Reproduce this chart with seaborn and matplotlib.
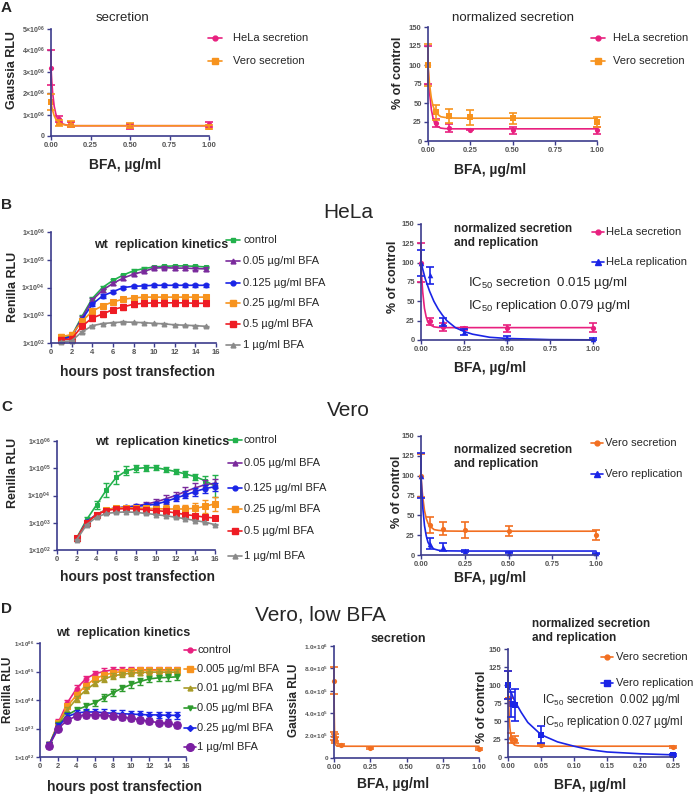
import numpy as np
import pandas as pd
import matplotlib
matplotlib.use('Agg')
import matplotlib.pyplot as plt
from matplotlib.lines import Line2D
from matplotlib.ticker import NullLocator
import seaborn as sns

W, H = 696, 795

MAGENTA = '#e8207f'
ORANGE = '#f7931e'
ORANGE_D = '#f26f21'
GREEN = '#22b14c'
PURPLE = '#7a2a9c'
BLUE = '#1a24e6'
RED = '#ee1c24'
GREY = '#8a8a8a'
OLIVE = '#a89b28'
DKGREEN = '#2e9b2e'
VIOLET = '#7b1fa2'
AXCOL = '#3c3c8c'

# ---------------- data: panel A
gauss_hela_x = [0, 0.05, 0.125, 0.5, 1.0]
gauss_hela = [3.2e6, 0.8e6, 0.55e6, 0.45e6, 0.55e6]
gauss_hela_err = [0.8e6, 0.15e6, 0.12e6, 0.1e6, 0.12e6]
gauss_vero_x = [0, 0.05, 0.125, 0.5, 1.0]
gauss_vero = [1.6e6, 0.6e6, 0.55e6, 0.48e6, 0.42e6]
gauss_vero_err = [0.38e6, 0.15e6, 0.15e6, 0.12e6, 0.1e6]

fit_x = [0, 0.005, 0.01, 0.02, 0.03, 0.04, 0.05, 0.075, 0.1, 0.15, 0.25, 0.5, 1.0]
gauss_hela_fit = [3.2e6, 2.55e6, 2.05e6, 1.4e6, 1.05e6, 0.82e6, 0.7e6, 0.56e6, 0.51e6, 0.48e6, 0.48e6, 0.48e6, 0.48e6]
gauss_vero_fit = [1.6e6, 1.38e6, 1.2e6, 0.95e6, 0.8e6, 0.7e6, 0.63e6, 0.54e6, 0.5e6, 0.48e6, 0.48e6, 0.48e6, 0.48e6]

dose = [0, 0.05, 0.125, 0.25, 0.5, 1.0]
pct_hela_sec = [100, 24, 17, 15, 14, 14]
pct_hela_sec_err = [25, 5, 5, 1, 5, 5]
pct_vero_sec = [100, 38, 33, 31, 30, 25]
pct_vero_sec_err = [27, 10, 9, 10, 7, 6]
pct_hela_sec_fit = [100, 78, 62, 41, 30, 23, 20, 17, 16.3, 16, 16, 16, 16]
pct_vero_sec_fit = [100, 85, 73, 56, 46, 40, 36.5, 32, 31, 30.2, 30, 30, 30]

# ---------------- data: panel B (HeLa)
hours_b = list(range(1, 16))
labels_bc = ['control', '0.05 µg/ml BFA', '0.125 µg/ml BFA', '0.25 µg/ml BFA',
             '0.5 µg/ml BFA', '1 µg/ml BFA']
hela_control = [150, 180, 900, 4000, 10000, 18000, 28000, 40000, 48000, 55000, 58000, 60000, 60000, 58000, 55000]
hela_005 = [130, 170, 800, 3500, 8000, 14000, 22000, 30000, 38000, 50000, 52000, 50000, 50000, 48000, 47000]
hela_0125 = [140, 170, 700, 2500, 5000, 7000, 10000, 11000, 11500, 12000, 12000, 12000, 12000, 12000, 12000]
hela_025 = [170, 200, 600, 1400, 2200, 3000, 3800, 4200, 4500, 4500, 4500, 4500, 4500, 4500, 4500]
hela_05 = [130, 140, 400, 800, 1100, 1600, 2000, 2500, 2700, 2800, 2800, 2800, 2800, 2700, 2700]
hela_1 = [110, 120, 250, 420, 500, 540, 570, 560, 540, 510, 490, 450, 440, 420, 400]
hela_err = [0.12, 0.15, 0.15, 0.2, 0.25, 0.05]

hela_rep = [100, 84, 23, 10, 3, 1]
hela_rep_err = [17, 11, 5, 4, 2, 1]
rep_fit_x = [0, 0.025, 0.05, 0.075, 0.1, 0.125, 0.15, 0.2, 0.25, 0.3, 0.4, 0.5, 0.75, 1.0]
hela_rep_fit = [100, 79, 63, 50, 40, 32, 25, 16, 11, 7.5, 3.5, 2, 0.5, 0.2]
hela_sec_b = [100, 24, 17, 15, 15, 16]
hela_sec_b_err = [25, 5, 5, 2, 5, 6]

# ---------------- data: panel C (Vero)
hours_c = list(range(2, 17))
vero_control = [280, 1300, 4500, 16000, 46000, 80000, 98000, 105000, 105000, 90000, 76000, 62000, 49000, 35000, 22000]
vero_005 = [260, 1100, 2000, 3000, 3500, 3800, 4200, 4800, 5800, 7500, 10000, 14000, 19000, 25000, 28000]
vero_0125 = [260, 1100, 2000, 3000, 3500, 3700, 4000, 4300, 4800, 6000, 8000, 10500, 14000, 18000, 21000]
vero_025 = [270, 1000, 2000, 3000, 3500, 3600, 3500, 3400, 3300, 3200, 3200, 3200, 3400, 4000, 5000]
vero_05 = [270, 1000, 2000, 2800, 3200, 3300, 3200, 3000, 2800, 2600, 2300, 2000, 1800, 1600, 1500]
vero_1 = [240, 850, 1600, 2200, 2400, 2500, 2400, 2200, 2000, 1800, 1600, 1400, 1200, 1050, 850]
vero_control_err = [0.1, 0.2, 0.35, 0.8, 0.7, 0.45, 0.35, 0.3, 0.25, 0.2, 0.2, 0.25, 0.3, 0.5, 1.5]
vero_005_err = [0.05, 0.1, 0.1, 0.1, 0.1, 0.1, 0.15, 0.2, 0.3, 0.35, 0.4, 0.45, 0.5, 0.5, 0.5]
vero_0125_err = [0.05, 0.1, 0.1, 0.1, 0.1, 0.1, 0.12, 0.15, 0.2, 0.25, 0.3, 0.35, 0.4, 0.4, 0.4]
vero_025_err = [0.05, 0.1, 0.1, 0.1, 0.1, 0.15, 0.2, 0.25, 0.3, 0.35, 0.4, 0.45, 0.55, 0.7, 0.8]

vero_sec_c = [100, 38, 33, 31, 30, 25]
vero_sec_c_err = [27, 10, 8, 10, 6, 6]
vero_rep_c = [100, 14, 10, 5, 3, 2]
vero_rep_c_err = [28, 7, 5, 1, 1, 1]
vero_rep_c_fit = [100, 78, 60, 37, 24, 16, 12, 7.5, 6, 5.2, 5, 5, 5]

# ---------------- data: panel D (Vero, low BFA)
hours_d = list(range(1, 16))
labels_d = ['control', '0.005 µg/ml BFA', '0.01 µg/ml BFA', '0.05 µg/ml BFA',
            '0.25 µg/ml BFA', '1 µg/ml BFA']
low_control = [260, 1600, 8000, 25000, 55000, 83000, 100000, 115000, 115000, 115000, 115000, 115000, 115000, 115000, 115000]
low_0005 = [260, 1500, 6000, 15000, 32000, 55000, 75000, 90000, 100000, 105000, 110000, 110000, 110000, 110000, 110000]
low_001 = [260, 1400, 4500, 11000, 22000, 38000, 55000, 70000, 80000, 88000, 92000, 95000, 95000, 95000, 95000]
low_005 = [260, 1300, 3000, 4500, 6000, 8000, 12000, 18000, 26000, 35000, 45000, 55000, 60000, 62000, 65000]
low_025 = [260, 1200, 2600, 3500, 3800, 3800, 3600, 3400, 3300, 3200, 3100, 3000, 3000, 2900, 2900]
low_1 = [250, 1000, 2000, 2700, 3000, 3000, 2900, 2700, 2500, 2300, 2000, 1800, 1600, 1500, 1300]
low_err = [0.3, 0.25, 0.25, 0.3, 0.3, 0.25]

low_sec_x = [0, 0.002, 0.005, 0.01, 0.05, 0.25, 1.0]
low_sec = [6.9e5, 2.0e5, 1.8e5, 1.6e5, 1.15e5, 0.9e5, 0.8e5]
low_sec_err = [1.2e5, 0.35e5, 0.3e5, 0.3e5, 0.1e5, 0.1e5, 0.1e5]
low_sec_fit_x = [0, 0.001, 0.002, 0.004, 0.006, 0.01, 0.02, 0.05, 0.25, 1.0]
low_sec_fit = [6.9e5, 5.0e5, 3.6e5, 2.2e5, 1.6e5, 1.2e5, 1.06e5, 1.05e5, 1.05e5, 1.05e5]

low_pct_x = [0, 0.002, 0.005, 0.01, 0.05, 0.25]
low_pct_sec = [100, 82, 27, 24, 17, 14]
low_pct_sec_err = [20, 0, 7, 5, 1, 1]
low_pct_sec_fit_x = [0, 0.001, 0.002, 0.003, 0.004, 0.006, 0.008, 0.01, 0.015, 0.05, 0.25]
low_pct_sec_fit = [100, 72, 52, 40, 32, 22, 18.5, 16.5, 15.5, 15, 15]
low_rep_x = [0, 0.005, 0.01, 0.05, 0.25]
low_rep = [100, 73, 72, 31, 3]
low_rep_err = [20, 17, 22, 12, 1]
low_rep_fit_x = [0, 0.01, 0.02, 0.03, 0.05, 0.075, 0.1, 0.125, 0.15, 0.2, 0.25]
low_rep_fit = [100, 78, 62, 48, 31, 21, 15, 10, 7, 4.5, 3]

# ---------------- style
sns.set_style('ticks')
plt.rcParams['font.family'] = ['Liberation Sans', 'DejaVu Sans']
plt.rcParams['mathtext.default'] = 'regular'

fig = plt.figure(figsize=(W / 100, H / 100), dpi=100)
fig.patch.set_facecolor('white')


def px_axes(x0, x1, y0, y1):
    return fig.add_axes([x0 / W, 1 - y1 / H, (x1 - x0) / W, (y1 - y0) / H])


def ftext(x, y, s, **kw):
    kw.setdefault('ha', 'center')
    kw.setdefault('va', 'center')
    fig.text(x / W, 1 - y / H, s, **kw)


def style(ax, xticks, xlabels, yticks, ylabels, ysize=5.5):
    sns.despine(ax=ax)
    for s in ['left', 'bottom']:
        ax.spines[s].set_color(AXCOL)
        ax.spines[s].set_linewidth(1.2)
    ax.set_facecolor('none')
    ax.set_xticks(xticks, xlabels, fontsize=5.5, fontweight='bold', color='#555555')
    ax.set_yticks(yticks, ylabels, fontsize=ysize, fontweight='bold', color='#555555')
    ax.yaxis.set_minor_locator(NullLocator())
    ax.xaxis.set_minor_locator(NullLocator())
    ax.tick_params(color=AXCOL, length=3, width=1, pad=1.5)
    ax.set_xlabel('')
    ax.set_ylabel('')


def noclip(ax):
    for art in ax.lines + ax.collections:
        art.set_clip_on(False)


def legend_rows(entries, mx, tx, ys, size=8, half=7):
    for (lab, col, mk, ms), y in zip(entries, ys):
        yf = 1 - y / H
        fig.add_artist(Line2D([(mx - half) / W, (mx + half) / W], [yf, yf], color=col, lw=1.2))
        fig.add_artist(Line2D([mx / W], [yf], color=col, marker=mk, ms=ms, mec=col, ls='none'))
        fig.text(tx / W, yf, lab, va='center', ha='left', fontsize=size)


def dose_series(ax, x, y, e, fx, fy, color, marker, ms=14):
    ax.errorbar(x, y, yerr=e, fmt='none', ecolor=color, elinewidth=1.2, capsize=2.8, capthick=1.2)
    sns.lineplot(x=fx, y=fy, color=color, lw=1.2, ax=ax)
    sns.scatterplot(x=x, y=y, color=color, marker=marker, s=ms, linewidth=0, ax=ax)


def kinetics(ax, hours, series, errs, colors, markers, sizes):
    for vals, f, c, m, ms in zip(series, errs, colors, markers, sizes):
        v = np.array(vals, dtype=float)
        f = np.broadcast_to(np.array(f, dtype=float), v.shape)
        ax.errorbar(hours, v, yerr=[v - v / (1 + f), v * f], fmt='none', ecolor=c,
                    elinewidth=1, capsize=2, capthick=1)
        df = pd.DataFrame({'hour': hours, 'rlu': v})
        sns.lineplot(data=df, x='hour', y='rlu', color=c, marker=m, markersize=ms,
                     markeredgecolor=c, lw=1.2, ax=ax)
    ax.set_yscale('log')
    ax.set_ylim(1e2, 1e6)
    ax.set_xlim(0, 16)


dose_ticks = [0, 0.25, 0.5, 0.75, 1.0]
dose_labels = ['0.00', '0.25', '0.50', '0.75', '1.00']
pct_ticks = [0, 25, 50, 75, 100, 125, 150]
pct_labels = [str(t) for t in pct_ticks]
log_ticks = [1e2, 1e3, 1e4, 1e5, 1e6]
log_labels = ['1×10$^{02}$', '1×10$^{03}$', '1×10$^{04}$', '1×10$^{05}$', '1×10$^{06}$']
hour_ticks = list(range(0, 17, 2))
hour_labels = [str(t) for t in hour_ticks]

# ================= A left
ax = px_axes(51, 209, 29, 136)
dose_series(ax, gauss_hela_x, gauss_hela, gauss_hela_err, fit_x, gauss_hela_fit, MAGENTA, 'o')
dose_series(ax, gauss_vero_x, gauss_vero, gauss_vero_err, fit_x, gauss_vero_fit, ORANGE, 's', 18)
ax.set_xlim(0, 1)
ax.set_ylim(0, 5e6)
style(ax, dose_ticks, dose_labels, [0, 1e6, 2e6, 3e6, 4e6, 5e6],
      ['0'] + [f'{k}×10$^{{06}}$' for k in range(1, 6)], ysize=5)
noclip(ax)
ftext(123, 18, 'secretion', fontsize=9.5)
ftext(125, 165, 'BFA, µg/ml', fontsize=10, fontweight='bold')
ftext(12, 70, 'Gaussia RLU', fontsize=9, fontweight='bold', rotation=90)
legend_rows([('HeLa secretion', MAGENTA, 'o', 3.5), ('Vero secretion', ORANGE, 's', 4)],
            215, 233, [38, 61])

# ================= A right
ax = px_axes(428, 597, 27, 141)
dose_series(ax, dose, pct_hela_sec, pct_hela_sec_err, fit_x, pct_hela_sec_fit, MAGENTA, 'o')
dose_series(ax, dose, pct_vero_sec, pct_vero_sec_err, fit_x, pct_vero_sec_fit, ORANGE, 's', 18)
ax.set_xlim(0, 1)
ax.set_ylim(0, 150)
style(ax, dose_ticks, dose_labels, pct_ticks, pct_labels)
noclip(ax)
ftext(513, 18, 'normalized secretion', fontsize=9.5)
ftext(490, 170, 'BFA, µg/ml', fontsize=10, fontweight='bold')
ftext(398, 73, '% of control', fontsize=9, fontweight='bold', rotation=90)
legend_rows([('HeLa secretion', MAGENTA, 'o', 3.5), ('Vero secretion', ORANGE, 's', 4)],
            598, 613, [38, 61])

# ================= B
ftext(348, 213, 'HeLa', fontsize=15)
colors_bc = [GREEN, PURPLE, BLUE, ORANGE, RED, GREY]
markers_bc = ['s', '^', 'o', 's', 's', '^']
sizes_bc = [3.5, 3.5, 3.5, 5, 4, 3.5]
ax = px_axes(51, 216, 232, 343)
kinetics(ax, hours_b, [hela_control, hela_005, hela_0125, hela_025, hela_05, hela_1],
         hela_err, colors_bc, markers_bc, sizes_bc)
style(ax, hour_ticks, hour_labels, log_ticks, log_labels, ysize=5)
noclip(ax)
ftext(161, 245, 'wt  replication kinetics', fontsize=9, fontweight='bold')
ftext(137, 372, 'hours post transfection', fontsize=10, fontweight='bold')
ftext(13, 287, 'Renilla RLU', fontsize=9, fontweight='bold', rotation=90)
legend_rows([(l, c, m, s) for l, c, m, s in zip(labels_bc, colors_bc, markers_bc, sizes_bc)],
            233, 243, [240, 261, 283, 303, 324, 345])

ax = px_axes(421, 593, 224, 340)
dose_series(ax, dose, hela_sec_b, hela_sec_b_err, fit_x, pct_hela_sec_fit, MAGENTA, 'o')
dose_series(ax, dose, hela_rep, hela_rep_err, rep_fit_x, hela_rep_fit, BLUE, '^', 16)
ax.set_xlim(0, 1)
ax.set_ylim(0, 150)
style(ax, dose_ticks, dose_labels, pct_ticks, pct_labels)
noclip(ax)
ftext(454, 236, 'normalized secretion\nand replication', fontsize=8.5, fontweight='bold',
      ha='left', linespacing=1.3)
ftext(468, 283, 'IC$_{50}$ secretion  0.015 µg/ml', fontsize=9.5, ha='left')
ftext(468, 306, 'IC$_{50}$ replication 0.079 µg/ml', fontsize=9.5, ha='left')
ftext(490, 368, 'BFA, µg/ml', fontsize=10, fontweight='bold')
ftext(393, 277, '% of control', fontsize=9, fontweight='bold', rotation=90)
legend_rows([('HeLa secretion', MAGENTA, 'o', 3.5), ('HeLa replication', BLUE, '^', 4)],
            598, 606, [232, 262], half=6)

# ================= C
ftext(348, 410, 'Vero', fontsize=15)
ax = px_axes(57, 215, 441, 550)
kinetics(ax, hours_c, [vero_control, vero_005, vero_0125, vero_025, vero_05, vero_1],
         [vero_control_err, vero_005_err, vero_0125_err, vero_025_err, 0.1, 0.05],
         colors_bc, markers_bc, sizes_bc)
style(ax, hour_ticks, hour_labels, log_ticks, log_labels, ysize=5)
noclip(ax)
ftext(162, 442, 'wt  replication kinetics', fontsize=9, fontweight='bold')
ftext(137, 577, 'hours post transfection', fontsize=10, fontweight='bold')
ftext(13, 473, 'Renilla RLU', fontsize=9, fontweight='bold', rotation=90)
legend_rows([(l, c, m, s) for l, c, m, s in zip(labels_bc, colors_bc, markers_bc, sizes_bc)],
            235, 244, [440, 463, 488, 509, 531, 556])

ax = px_axes(421, 596, 436, 555)
dose_series(ax, dose, vero_sec_c, vero_sec_c_err, fit_x, pct_vero_sec_fit, ORANGE_D, 'o')
dose_series(ax, dose, vero_rep_c, vero_rep_c_err, fit_x, vero_rep_c_fit, BLUE, '^', 16)
ax.set_xlim(0, 1)
ax.set_ylim(0, 150)
style(ax, dose_ticks, dose_labels, pct_ticks, pct_labels)
noclip(ax)
ftext(454, 457, 'normalized secretion\nand replication', fontsize=8.5, fontweight='bold',
      ha='left', linespacing=1.3)
ftext(490, 578, 'BFA, µg/ml', fontsize=10, fontweight='bold')
ftext(397, 492, '% of control', fontsize=9, fontweight='bold', rotation=90)
legend_rows([('Vero secretion', ORANGE_D, 'o', 3.5), ('Vero replication', BLUE, '^', 4)],
            597, 605, [443, 474], half=6)

# ================= D
ftext(320, 615, 'Vero, low BFA', fontsize=15)
colors_d = [MAGENTA, ORANGE, OLIVE, DKGREEN, BLUE, VIOLET]
markers_d = ['o', 's', '^', 'v', 'D', 'o']
sizes_d = [3.5, 4, 3.5, 3.5, 3, 5.5]
ax = px_axes(40, 186, 643, 757)
kinetics(ax, hours_d, [low_control, low_0005, low_001, low_005, low_025, low_1],
         low_err, colors_d, markers_d, sizes_d)
style(ax, hour_ticks, hour_labels, log_ticks, log_labels, ysize=4.4)
ax.tick_params(axis='y', pad=1)
noclip(ax)
ftext(123, 633, 'wt  replication kinetics', fontsize=9, fontweight='bold')
ftext(125, 787, 'hours post transfection', fontsize=10, fontweight='bold')
ftext(8, 690, 'Renilla RLU', fontsize=8.5, fontweight='bold', rotation=90)
legend_rows([(l, c, m, s) for l, c, m, s in zip(labels_d, colors_d, markers_d, sizes_d)],
            190, 197, [650, 669, 688, 708, 728, 747], half=6)

ax = px_axes(334, 479, 646, 758)
dose_series(ax, low_sec_x, low_sec, low_sec_err, low_sec_fit_x, low_sec_fit, ORANGE_D, 'o')
ax.set_xlim(0, 1)
ax.set_ylim(0, 1e6)
style(ax, dose_ticks, dose_labels, [0, 2e5, 4e5, 6e5, 8e5, 1e6],
      ['0', '2.0×10$^5$', '4.0×10$^5$', '6.0×10$^5$', '8.0×10$^5$', '1.0×10$^6$'], ysize=4.6)
ax.tick_params(axis='y', pad=1)
noclip(ax)
ftext(398, 639, 'secretion', fontsize=9, fontweight='bold')
ftext(393, 784, 'BFA, µg/ml', fontsize=10, fontweight='bold')
ftext(294, 700, 'Gaussia RLU', fontsize=8.5, fontweight='bold', rotation=90)

ax = px_axes(508, 673, 649, 757)
dose_series(ax, low_pct_x, low_pct_sec, low_pct_sec_err, low_pct_sec_fit_x, low_pct_sec_fit,
            ORANGE_D, 'o')
dose_series(ax, low_rep_x, low_rep, low_rep_err, low_rep_fit_x, low_rep_fit, BLUE, 's', 16)
ax.set_xlim(0, 0.25)
ax.set_ylim(0, 150)
style(ax, [0, 0.05, 0.1, 0.15, 0.2, 0.25], ['0.00', '0.05', '0.10', '0.15', '0.20', '0.25'],
      pct_ticks, pct_labels)
noclip(ax)
ftext(532, 631, 'normalized secretion\nand replication', fontsize=8.5, fontweight='bold',
      ha='left', linespacing=1.3)
ftext(542, 700, 'IC$_{50}$ secretion  0.002 µg/ml', fontsize=8.3, ha='left')
ftext(542, 722, 'IC$_{50}$ replication 0.027 µg/ml', fontsize=8.3, ha='left')
ftext(590, 785, 'BFA, µg/ml', fontsize=10, fontweight='bold')
ftext(482, 707, '% of control', fontsize=9, fontweight='bold', rotation=90)
legend_rows([('Vero secretion', ORANGE_D, 'o', 3.5), ('Vero replication', BLUE, 's', 4)],
            607, 616, [657, 683], half=6)

# panel letters
for letter, (lx, ly) in zip('ABCD', [(6, 8), (7, 205), (7, 407), (7, 609)]):
    ftext(lx, ly, letter, fontsize=11, fontweight='bold')

fig.savefig('out.png', dpi=100)
